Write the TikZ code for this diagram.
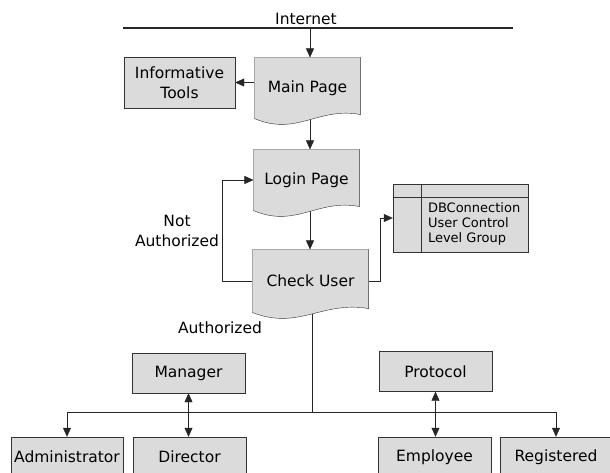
\documentclass[tikz,border=0pt]{standalone}
\usepackage{fontspec}
\setmainfont{DejaVu Sans}
\usetikzlibrary{positioning}
\usetikzlibrary{arrows.meta}
\usetikzlibrary{calc}

\pgfdeclarelayer{links}
\pgfdeclarelayer{pages}
\pgfsetlayers{links,pages,main}

\begin{document}
\begin{tikzpicture}[x=1pt,y=-1pt,line width=1.1pt,
    font=\fontsize{15.5}{20}\selectfont,
    box/.style={draw=black!80,fill=black!14,minimum width=113pt,minimum height=40pt,inner sep=1pt},
    page/.style={minimum width=105pt,minimum height=60pt,inner sep=1pt},
    pageline/.style={draw=black!80,fill=black!14},
    link/.style={draw=black!85,-{Triangle[length=9pt,width=8pt]}},
    both/.style={draw=black!85,{Triangle[length=9pt,width=8pt]}-{Triangle[length=9pt,width=8pt]}}]

  \useasboundingbox (0,0) rectangle (610,472);
  \clip (0,0) rectangle (610,472);

  % Internet bar
  \coordinate (netL) at (123,28);
  \coordinate (netR) at (513,28);
  \coordinate (net) at (310,28);
  \draw[draw=black!85] (netL) -- (netR);
  \node[inner sep=1pt] (internet) at (306,19) {Internet};

  % Pages with the wavy bottom
  \node[page] (main) at (307.5,88) {Main Page};
  \node[page] (login) at (306.5,180) {Login Page};
  \node[page, minimum width=115pt, minimum height=62pt] (check) at (310.5,281) {Check User};

  \begin{pgfonlayer}{pages}
    \foreach \n in {main,login,check}
      \draw[pageline] (\n.south west) -- (\n.north west) -- (\n.north east)
        -- ($(\n.south east)+(0,-4)$)
        .. controls ($(\n.south west)!0.6!(\n.south east)+(0,-12)$)
        and ($(\n.south west)!0.4!(\n.south east)+(0,18)$) .. (\n.south west) -- cycle;
  \end{pgfonlayer}

  % Plain boxes
  \node[box, minimum width=111pt, minimum height=51pt, align=center] (tools) at (179.5,82.5) {Informative\\Tools};

  \node[box, minimum width=135pt, minimum height=68pt] (db) at (460.5,218) {};
  \draw[draw=black!80] ($(db.north west)+(28,0)$) -- ($(db.south west)+(28,0)$);
  \draw[draw=black!80] ($(db.north west)+(0,13)$) -- ($(db.north east)+(0,13)$);
  \node[anchor=west, align=left, inner sep=3pt, font=\fontsize{13}{15}\selectfont]
    (dbtext) at ($(db.west)+(32,6)$) {DBConnection\\User Control\\Level Group};

  \node[box] (manager) at (188.5,373) {Manager};
  \node[box] (protocol) at (435.5,371.5) {Protocol};
  \node[box, minimum width=112pt] (admin) at (67,457) {Administrator};
  \node[box] (director) at (189.5,457) {Director};
  \node[box] (employee) at (434.5,457) {Employee};
  \node[box, minimum width=112pt] (registered) at (556,457) {Registered};

  % Labels
  \node[align=center] (notauth) at (177,230.5) {Not\\Authorized};
  \node (auth) at (220,328) {Authorized};

  % Connectors
  \coordinate (hub) at (312,412);
  \begin{pgfonlayer}{links}
    \draw[link] (net) -- (main.north -| net);
    \draw[link] (main.west |- tools.east) -- (tools.east);
    \draw[link] (main.south -| net) -- (login.north -| net);
    \draw[link] (login.south -| net) -- (check.north -| net);
    \draw[link] (check.west) -- ++(-30,0) |- (login.west);
    \draw[link] (check.east) -- ++(12,0) |- (db.west);
    \draw[draw=black!85] (check.south -| hub) -- (hub);
    \draw[draw=black!85] (admin.north |- hub) -- (registered.north |- hub);
    \draw[link] (admin.north |- hub) -- (admin.north);
    \draw[link] (registered.north |- hub) -- (registered.north);
    \draw[both] (manager.south) -- (manager.south |- director.north);
    \draw[both] (protocol.south) -- (protocol.south |- employee.north);
  \end{pgfonlayer}

\end{tikzpicture}
\end{document}
